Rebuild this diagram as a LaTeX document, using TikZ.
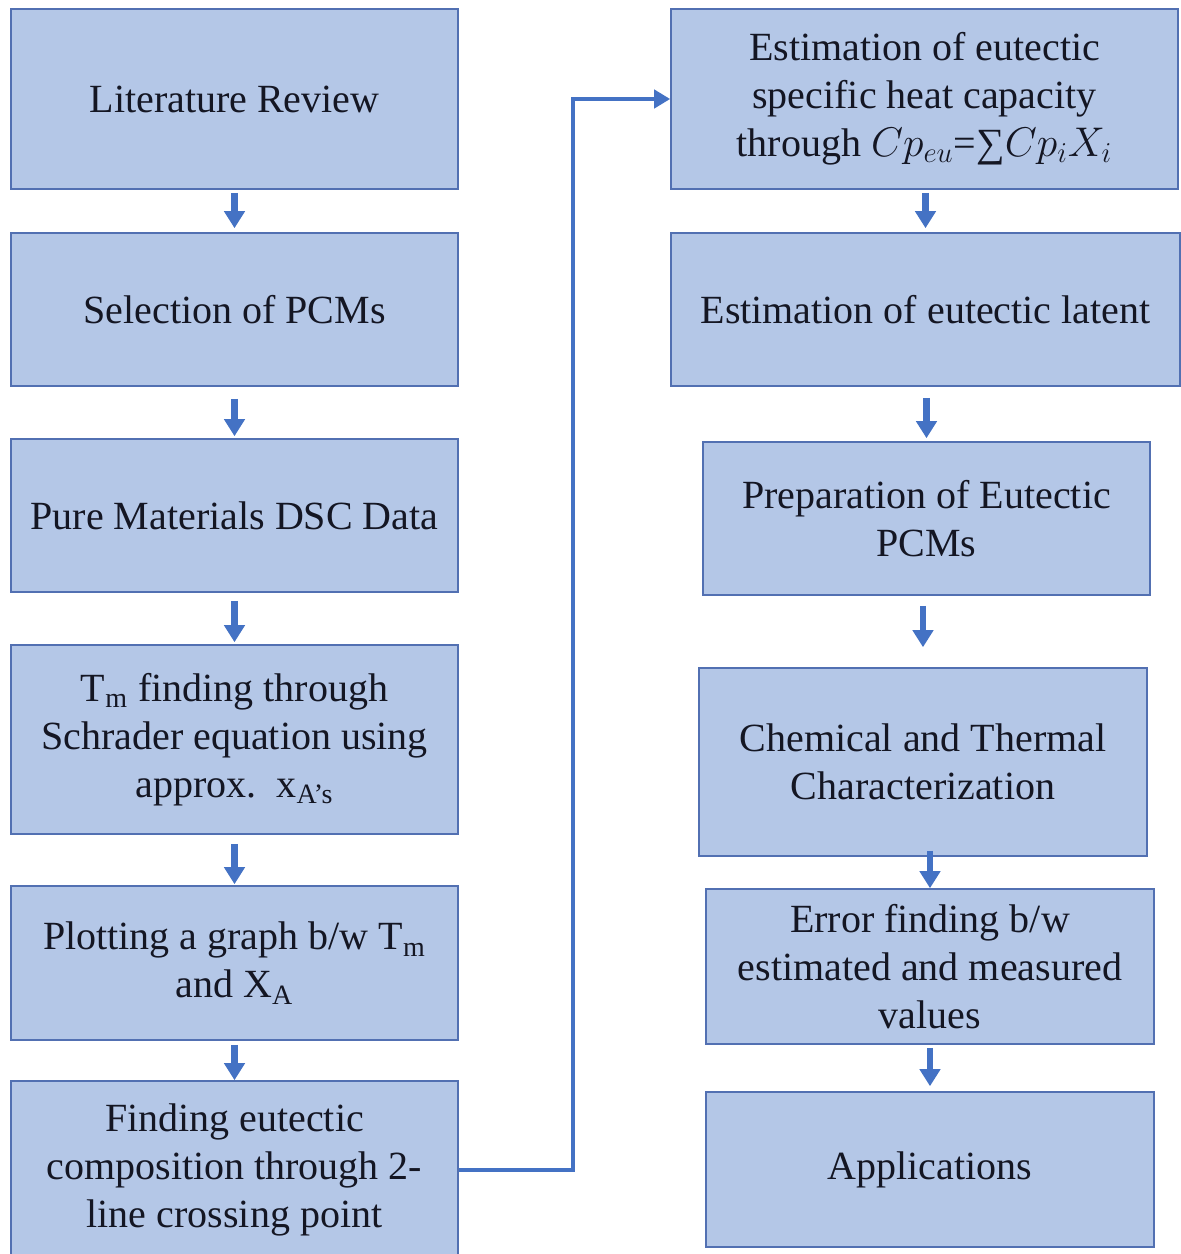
\documentclass[tikz,border=0pt]{standalone}
\usepackage{fontspec}
\setmainfont{Liberation Serif}
\usetikzlibrary{arrows.meta,calc}
\definecolor{boxfill}{RGB}{180,199,231}
\definecolor{boxline}{RGB}{82,112,178}
\definecolor{arrowblue}{RGB}{68,114,196}
\definecolor{txt}{RGB}{20,22,35}
\begin{document}
\begin{tikzpicture}[x=0.5pt,y=-0.5pt,
  box/.style={draw=boxline, fill=boxfill, line width=0.8pt, align=center,
    font=\fontsize{20}{24}\selectfont, text=txt, inner sep=0pt},
  arr/.style={draw=arrowblue, line width=3.3pt, -{Triangle[width=10pt,length=8.5pt]}},
  conn/.style={draw=arrowblue, line width=2.3pt, line join=miter, -{Triangle[width=9pt,length=8pt]}}]
\useasboundingbox[fill=white] (0,0) rectangle (1181,1254);

% left column
\node[box, minimum width=223.5pt, minimum height=90pt] (B1) at (234.5,99) {Literature Review};
\node[box, minimum width=223.5pt, minimum height=76.5pt] (B2) at (234.5,309.5) {Selection of PCMs};
\node[box, minimum width=223.5pt, minimum height=76.5pt] (B3) at (234.5,515.5) {Pure Materials DSC Data};
\node[box, minimum width=223.5pt, minimum height=94.5pt] (B4) at (234.5,739.5) {T\textsubscript{m} finding through\\Schrader equation using\\approx.\ \ x\textsubscript{A’s}};
\node[box, minimum width=223.5pt, minimum height=77pt] (B5) at (234.5,963) {Plotting a graph b/w T\textsubscript{m}\\and X\textsubscript{A}};
\node[box, minimum width=223.5pt, minimum height=89pt] (B6) at (234.5,1170) {Finding eutectic\\composition through 2-\\line crossing point};

% right column
\node[box, minimum width=253.5pt, minimum height=90pt] (R1) at (924.5,99) {Estimation of eutectic\\specific heat capacity\\through $Cp_{eu}$=∑$Cp_iX_i$};
\node[box, minimum width=254.5pt, minimum height=76.5pt] (R2) at (925.5,309.5) {Estimation of eutectic latent};
\node[box, minimum width=223.5pt, minimum height=76.5pt] (R3) at (926.5,518.5) {Preparation of Eutectic\\PCMs};
\node[box, minimum width=224pt, minimum height=94pt] (R4) at (923,762) {Chemical and Thermal\\Characterization};
\node[box, minimum width=224pt, minimum height=77.5pt] (R5) at (930,966.5) {Error finding b/w\\estimated and measured\\values};
\node[box, minimum width=224pt, minimum height=77.5pt] (R6) at (930,1169.5) {Applications};

% arrows left
\draw[arr, shorten <=1.5pt, shorten >=2pt] (B1) -- (B2);
\draw[arr, shorten <=6pt, shorten >=1pt] (B2) -- (B3);
\draw[arr, shorten <=4pt, shorten >=1pt] (B3) -- (B4);
\draw[arr, shorten <=4.5pt, shorten >=0.5pt] (B4) -- (B5);
\draw[arr, shorten <=2pt, shorten >=0pt] (B5) -- (B6);

% arrows right
\draw[arr, shorten <=1.5pt, shorten >=2pt] (R2.north |- R1.south) -- (R2.north);
\draw[arr, shorten <=5.5pt, shorten >=1.5pt] (R3.north |- R2.south) -- (R3.north);
\draw[arr, shorten <=5pt, shorten >=10pt] (R4.north |- R3.south) -- (R4.north);
\draw[arr, shorten <=-3pt, shorten >=0pt] (R5.north |- R4.south) -- (R5.north);
\draw[arr, shorten <=1.5pt, shorten >=2.5pt] (R6.north |- R5.south) -- (R6.north);

% connector
\coordinate (turn) at (573,0);
\draw[conn] (B6.east) -- (B6.east -| turn) |- (R1.west);
\end{tikzpicture}
\end{document}
